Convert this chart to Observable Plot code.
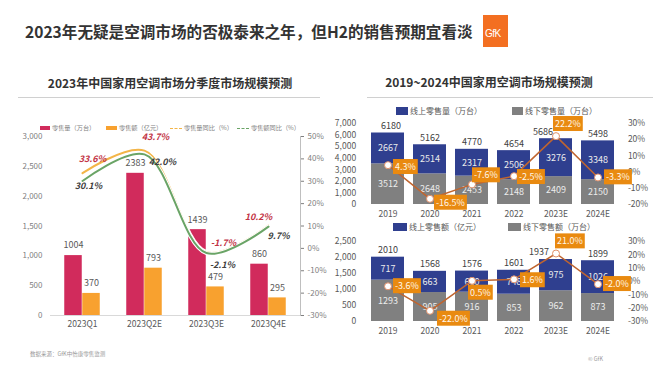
<!DOCTYPE html>
<html><head><meta charset="utf-8">
<script src="https://cdn.jsdelivr.net/npm/d3@7"></script>
<script src="https://cdn.jsdelivr.net/npm/@observablehq/plot@0.6"></script>
<style>
body{margin:0;background:#fff;}
#root{position:relative;width:660px;height:372px;overflow:hidden;font-family:"Noto Sans CJK SC","Noto Sans",sans-serif;background:#fff;}
</style></head><body><div id="root"></div>
<script>
// ---------- data ----------
const quarters = ["2023Q1", "2023Q2E", "2023Q3E", "2023Q4E"];
const qVolume = [1004, 2383, 1439, 860];
const qAmount = [370, 793, 479, 295];
const qVolumeYoY = [33.6, 43.7, -1.7, 10.2];
const qAmountYoY = [30.1, 42.0, -2.1, 9.7];
const qLeftTicks = [0, 500, 1000, 1500, 2000, 2500, 3000];
const qPctTicks = [-30, -20, -10, 0, 10, 20, 30, 40, 50];

const years = ["2019", "2020", "2021", "2022", "2023E", "2024E"];
const onlineVolume = [2667, 2514, 2317, 2506, 3276, 3348];
const offlineVolume = [3512, 2648, 2453, 2148, 2409, 2150];
const totalVolume = [6180, 5162, 4770, 4654, 5686, 5498];
const volumeYoY = [4.3, -16.5, -7.6, -2.5, 22.2, -3.3];
const volTicks = [0, 1000, 2000, 3000, 4000, 5000, 6000, 7000];
const volPctTicks = [-20, -10, 0, 10, 20, 30];

const onlineAmount = [717, 663, 660, 748, 975, 1026];
const offlineAmount = [1293, 905, 916, 853, 962, 873];
const totalAmount = [2010, 1568, 1576, 1601, 1937, 1899];
const amountYoY = [-3.6, -22.0, 0.5, 1.6, 21.0, -2.0];
const amtTicks = [0, 500, 1000, 1500, 2000, 2500];
const amtPctTicks = [-30, -20, -10, 0, 10, 20, 30];

// ---------- styles ----------
const FONT = '"Noto Sans CJK SC","Noto Sans",sans-serif';
const CRIMSON = "#d12b5c", ORANGE = "#f8a12f", GREEN = "#6aa466", LORANGE = "#f3b548";
const NAVY = "#2f3f8f", GRAY = "#808080", LINE = "#c0652f", BOX = "#e98a10";
const root = document.getElementById("root");

function html(tag, css, text) {
  const e = document.createElement(tag);
  e.style.cssText = css;
  if (text != null) e.textContent = text;
  root.appendChild(e);
  return e;
}
const fmt = d3.format(",");

// ---------- page text ----------
html("div", "position:absolute;left:25px;top:20px;font-size:15.6px;font-weight:bold;color:#333;white-space:nowrap;",
  "2023年无疑是空调市场的否极泰来之年，但H2的销售预期宜看淡");
html("div", "position:absolute;left:483px;top:15px;width:25px;height:32px;background:#f36f21;");
html("div", "position:absolute;left:485px;top:28px;font-size:10px;color:#fff;font-family:'Liberation Sans',sans-serif;letter-spacing:-0.5px;", "GfK");

html("div", "position:absolute;left:0;width:340px;top:74px;text-align:center;font-size:12px;font-weight:bold;color:#333;white-space:nowrap;",
  "2023年中国家用空调市场分季度市场规模预测");
html("div", "position:absolute;left:18px;top:97px;width:302px;height:1px;background:#d0d0d0;");
html("div", "position:absolute;left:330px;width:318px;top:73px;text-align:center;font-size:12px;font-weight:bold;color:#333;white-space:nowrap;",
  "2019~2024中国家用空调市场规模预测");
html("div", "position:absolute;left:367px;top:97px;width:286px;height:1px;background:#d0d0d0;");

html("div", "position:absolute;left:30px;top:350px;font-size:5.5px;color:#999;white-space:nowrap;", "数据来源：GfK中怡康零售监测");
html("div", "position:absolute;left:588px;top:355px;font-size:5.5px;color:#999;white-space:nowrap;", "© GfK");

// legends
function legendItem(x, y, swatchCss, label, fs, color) {
  const d = html("div", `position:absolute;left:${x}px;top:${y}px;font-size:${fs}px;color:${color};white-space:nowrap;z-index:5;line-height:${fs + 2}px;`);
  const s = document.createElement("span");
  s.style.cssText = "display:inline-block;vertical-align:middle;margin-right:2px;" + swatchCss;
  d.appendChild(s);
  const t = document.createElement("span");
  t.style.cssText = "vertical-align:middle;";
  t.textContent = label;
  d.appendChild(t);
}
legendItem(40, 124, `width:10px;height:4px;background:${CRIMSON};`, "零售量（万台）", 6.2, "#7f7f7f");
legendItem(106, 124, `width:11px;height:4px;background:${ORANGE};`, "零售额（亿元）", 6.2, "#7f7f7f");
legendItem(170, 124, `width:12px;height:0;border-top:1.5px dashed ${LORANGE};`, "零售量同比（%）", 6.2, "#7f7f7f");
legendItem(237, 124, `width:12px;height:0;border-top:1.5px dashed ${GREEN};`, "零售额同比（%）", 6.2, "#7f7f7f");

legendItem(396, 105, `width:12px;height:8px;background:${NAVY};`, "线上零售量（万台）", 8, "#595959");
legendItem(512, 105, `width:11px;height:8px;background:${GRAY};`, "线下零售量（万台）", 8, "#595959");
legendItem(393, 221, `width:14px;height:8px;background:${NAVY};`, "线上零售额（亿元）", 8, "#595959");
legendItem(508, 221, `width:13px;height:8px;background:${GRAY};`, "线下零售额（万台）", 8, "#595959");

// ---------- left chart ----------
const qMax = 3000;
const pctToQ = v => (v + 30) / 80 * qMax;
const qRows = quarters.map((q, i) => ({
  q, vol: qVolume[i], amt: qAmount[i],
  vy: pctToQ(qVolumeYoY[i]), ay: pctToQ(qAmountYoY[i]),
  vl: qVolumeYoY[i].toFixed(1) + "%", al: qAmountYoY[i].toFixed(1) + "%"
}));
const qBand = 250 / quarters.length;
const redNudge = [[10, -14], [11, -13], [17, -9], [-10, -8]];
const darkNudge = [[6, 5], [18, 8], [16, 12], [10, 9]];

const leftPlot = Plot.plot({
  width: 330, height: 235, marginLeft: 50, marginRight: 30, marginTop: 36, marginBottom: 20,
  style: {background: "transparent", fontFamily: FONT, overflow: "visible"},
  x: {domain: quarters, padding: 0, label: null},
  y: {domain: [0, qMax], label: null},
  marks: [
    Plot.ruleY([0], {stroke: "#d9d9d9"}),
    Plot.axisX({tickSize: 0, tickPadding: 5, fontSize: 8.5, color: "#595959", label: null}),
    Plot.axisY({ticks: qLeftTicks, tickSize: 0, tickPadding: 8, tickFormat: fmt, fontSize: 8, color: "#7f7f7f", label: null}),
    Plot.axisY({anchor: "right", ticks: qPctTicks.map(pctToQ), tickFormat: v => Math.round(v / qMax * 80 - 30) + "%",
      tickSize: 3, tickPadding: 4, fontSize: 8, color: "#7f7f7f", label: null}),
    Plot.frame({anchor: "right", stroke: "#bfbfbf"}),
    Plot.barY(qRows, {x: "q", y: "vol", fill: CRIMSON, insetLeft: qBand / 2 - 18, insetRight: qBand / 2}),
    Plot.barY(qRows, {x: "q", y: "amt", fill: ORANGE, insetLeft: qBand / 2, insetRight: qBand / 2 - 18}),
    Plot.text(qRows, {x: "q", y: "vol", text: d => String(d.vol), dx: -9, dy: -10, fontSize: 9, fill: "#595959"}),
    Plot.text(qRows, {x: "q", y: "amt", text: d => String(d.amt), dx: 9, dy: -10, fontSize: 9, fill: "#595959"}),
    Plot.line(qRows, {x: "q", y: "vy", curve: "catmull-rom", stroke: "white", strokeWidth: 4}),
    Plot.line(qRows, {x: "q", y: "vy", curve: "catmull-rom", stroke: LORANGE, strokeWidth: 2}),
    Plot.line(qRows, {x: "q", y: "ay", curve: "catmull-rom", stroke: "white", strokeWidth: 4}),
    Plot.line(qRows, {x: "q", y: "ay", curve: "catmull-rom", stroke: GREEN, strokeWidth: 2}),
    ...qRows.map((r, i) => Plot.text([r], {x: "q", y: "vy", text: "vl", dx: redNudge[i][0], dy: redNudge[i][1],
      fontSize: 9, fontWeight: "bold", fontStyle: "italic", fill: "#c23345"})),
    ...qRows.map((r, i) => Plot.text([r], {x: "q", y: "ay", text: "al", dx: darkNudge[i][0], dy: darkNudge[i][1],
      fontSize: 9, fontWeight: "bold", fontStyle: "italic", fill: "#404040"}))
  ]
});
leftPlot.style.cssText += ";position:absolute;left:0;top:100px;";
root.appendChild(leftPlot);

// ---------- right charts ----------
function stackedChart({top, height, marginTop, yMax, pctMin, pctMax, ticks, pctTicks, online, offline, totals, yoy, nudge, totalDx}) {
  const toY = v => (v - pctMin) / (pctMax - pctMin) * yMax;
  const rows = years.map((y, i) => ({yr: y, total: totals[i], p: toY(yoy[i]), pl: yoy[i].toFixed(1) + "%"}));
  const long = years.flatMap((y, i) => [
    {yr: y, s: "offline", v: offline[i]},
    {yr: y, s: "online", v: online[i]}
  ]);
  const order = ["offline", "online"];
  const p = Plot.plot({
    width: 330, height, marginLeft: 30.6, marginRight: 35.6, marginTop, marginBottom: 18,
    style: {background: "transparent", fontFamily: FONT, overflow: "visible"},
    x: {domain: years, padding: 0.222, label: null},
    y: {domain: [0, yMax], label: null},
    color: {domain: ["online", "offline"], range: [NAVY, GRAY]},
    marks: [
      Plot.axisX({tickSize: 0, tickPadding: 6, fontSize: 8.5, color: "#595959", label: null}),
      Plot.axisY({ticks, tickSize: 0, tickPadding: 5, tickFormat: fmt, fontSize: 8.5, color: "#595959", label: null}),
      Plot.axisY({anchor: "right", ticks: pctTicks.map(toY), tickFormat: v => Math.round(v / yMax * (pctMax - pctMin) + pctMin) + "%",
        tickSize: 0, tickPadding: 3, fontSize: 8.5, color: "#595959", label: null}),
      Plot.barY(long, {x: "yr", y: "v", fill: "s", order}),
      Plot.text(long, Plot.stackY({x: "yr", y: "v", z: "s", order, text: d => String(d.v), fontSize: 9, fill: "#ececec"})),
      ...rows.map((r, i) => Plot.text([r], {x: "yr", y: "total", text: d => String(d.total), dx: totalDx[i], dy: -7, fontSize: 9, fill: "#404040"})),
      Plot.line(rows, {x: "yr", y: "p", stroke: LINE, strokeWidth: 1.5}),
      Plot.dot(rows, {x: "yr", y: "p", r: 3.5, fill: "white", stroke: "#e0906a", strokeWidth: 1}),
      ...rows.map((r, i) => Plot.text([r], {x: "yr", y: "p", text: "pl", dx: nudge[i][0], dy: nudge[i][1],
        textAnchor: "start", fontSize: 9, fill: "#fff6ea", ariaLabel: () => "yoy-label"}))
    ]
  });
  p.style.cssText += `;position:absolute;left:330px;top:${top}px;`;
  root.appendChild(p);
  const texts = new Set([
    ...p.querySelectorAll('text[aria-label="yoy-label"]'),
    ...p.querySelectorAll('[aria-label="yoy-label"] text')
  ]);
  texts.forEach(t => {
    const b = t.getBBox();
    const r = document.createElementNS("http://www.w3.org/2000/svg", "rect");
    r.setAttribute("x", b.x - 2);
    r.setAttribute("y", b.y - 1);
    r.setAttribute("width", b.width + 4);
    r.setAttribute("height", b.height + 2);
    r.setAttribute("fill", BOX);
    r.setAttribute("stroke", "none");
    const tr = t.getAttribute("transform");
    if (tr) r.setAttribute("transform", tr);
    t.parentNode.insertBefore(r, t);
  });
  return p;
}

stackedChart({
  top: 100, height: 122, marginTop: 23, yMax: 7000, pctMin: -20, pctMax: 30,
  ticks: volTicks, pctTicks: volPctTicks,
  online: onlineVolume, offline: offlineVolume, totals: totalVolume, yoy: volumeYoY,
  nudge: [[7, 2], [6, 4], [2, -9], [5, 1], [-1, -12], [8, 0]],
  totalDx: [3, 0, 0, 0, -13, 0]
});
stackedChart({
  top: 225, height: 114, marginTop: 16, yMax: 2500, pctMin: -30, pctMax: 30,
  ticks: amtTicks, pctTicks: amtPctTicks,
  online: onlineAmount, offline: offlineAmount, totals: totalAmount, yoy: amountYoY,
  nudge: [[7, 0], [9, 8], [-2, 12], [8, 1], [1, -12], [7, 0]],
  totalDx: [0, 0, 0, 0, -17, 0]
});
</script></body></html>
